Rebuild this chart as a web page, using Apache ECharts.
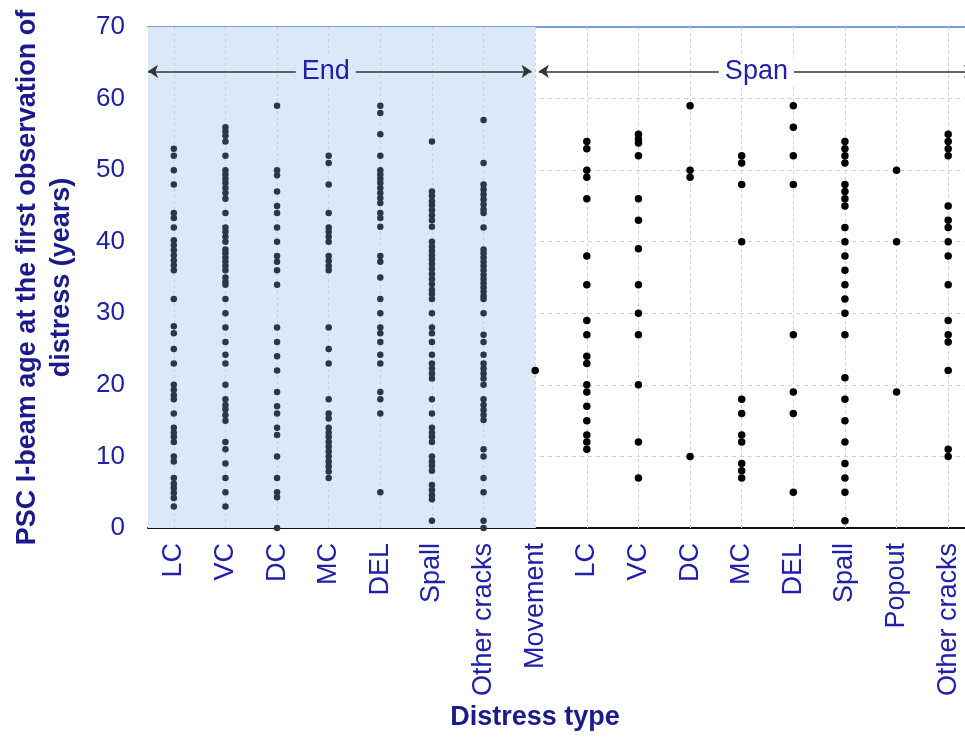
<!DOCTYPE html>
<html>
<head>
<meta charset="utf-8">
<script src="https://cdn.jsdelivr.net/npm/echarts@6/dist/echarts.min.js"></script>
<style>
html,body{margin:0;padding:0;background:#fff}
#main{width:965px;height:737px}
</style>
</head>
<body>
<div id="main"></div>
<script>
// x categories (End: 0..6, Movement: 7, Span: 8..15)
var categories = ['LC','VC','DC','MC','DEL','Spall','Other cracks','Movement',
                  'LC','VC','DC','MC','DEL','Spall','Popout','Other cracks'];

// age (years) at first observation, one list per column
var endLC = [53,52,50,48,44,43.3,42,40.2,39.5,38.8,38.1,37.4,36.7,36,32,28.2,27.2,25,23,20,19.3,18.6,18,16,14,13.3,12.7,12,10,9.3,7,6.2,5.6,4.9,4.2,3];
var endVC = [56,55.4,54.8,54,52,50,49.4,48.8,48.2,47.5,46.8,46,44,42,41.4,40.7,40,38.9,38.4,37.8,37.2,36.6,36,35,34.4,34,32,30,28,26,24.2,23,20,18,17.2,16.6,15.8,15,12,11,9,7,5,3];
var endDC = [59,50,49.3,47,45,44,42,40,38,37.2,36,34,28,26,24,22,19,17,16,14,13,10,7,5,4.3,0];
var endMC = [52,51,48,44,42,41.4,40.7,40,38,37.3,36.6,36,28,25,23,18,16,15.3,14,13.3,12.7,12,11.4,10.7,10,9.3,8.6,7.9,7];
var endDEL = [59,58,55,52,50,49.4,48.8,48.2,47.5,46.8,46.1,45.4,44,43.3,42.1,38,37.2,35,32,30,28,27.2,26,24.2,23,19,18,16,5];
var endSpall = [54,47,46.4,45.7,45.1,44.4,43.7,43,42.1,40,39.3,38.7,38.1,37.5,36.9,36.2,35.5,34.8,34.1,33.3,32.7,32,30,28,27.2,26,24.2,23,22.3,21.6,20.9,18,16,14,13.3,12.7,12,10,9.3,8.7,8,6,5.3,4.6,4,1];
var endOther = [57,51,48,47.3,46.6,45.9,45.2,44.5,44,42,38.9,38.4,37.8,37.2,36.6,36,35.4,34.8,34.2,33.6,33,32.4,32,30,27,26,24.2,23,22.3,21.6,20.9,20,18,17.2,16.5,15.8,15.1,11,10,7,5,1,0];
var movement = [22];
var spanLC = [54,53,50,49,46,38,34,29,27,24,23,20,19,17,15,13,12,11];
var spanVC = [55,54.3,53.8,52,46,43,39,34,30,27,20,12,7];
var spanDC = [59,50,49,10];
var spanMC = [52,51,48,40,18,16,13,12,9,8,7];
var spanDEL = [59,56,52,48,27,19,16,5];
var spanSpall = [54,53,52,51,48,47,46,45,42,40,38,36,34,32,30,27,21,18,15,12,9,7,5,1];
var spanPopout = [50,40,19];
var spanOther = [55,54,53,52,45,43,42,40,38,34,29,27,26,22,11,10];

var yTicks = [0,10,20,30,40,50,60,70];
var groupLabels = ['End','Span'];

var endCols = [endLC,endVC,endDC,endMC,endDEL,endSpall,endOther];
var spanCols = [movement,spanLC,spanVC,spanDC,spanMC,spanDEL,spanSpall,spanPopout,spanOther];
var moveIdx = categories.indexOf('Movement');

function toPoints(cols, offset){
  var out = [];
  cols.forEach(function(col, i){
    col.forEach(function(v){ out.push([i + offset, v]); });
  });
  return out;
}

var blue = '#2020a8';
var navy = '#1a1a8c';
var shade = '#dbe8f8';

var chart = echarts.init(document.getElementById('main'), null, {renderer: 'canvas'});
var arrowY = 63.8;

var option = {
  animation: false,
  grid: {left: 148, top: 27, right: -9, bottom: 209, outerBoundsMode: 'none', containLabel: false},
  xAxis: [
    {
      type: 'category',
      data: categories,
      boundaryGap: true,
      name: 'Distress type',
      nameLocation: 'middle',
      nameGap: 175,
      nameTextStyle: {fontFamily: 'Liberation Sans', fontWeight: 'bold', fontSize: 27, color: navy, padding: [0, 52, 0, 0]},
      axisLine: {lineStyle: {color: '#111', width: 2}},
      axisTick: {show: false},
      splitLine: {show: false},
      axisLabel: {interval: 0, rotate: 90, margin: 15, fontSize: 27, color: blue, fontFamily: 'Liberation Sans'}
    },
    {
      type: 'value',
      position: 'top',
      min: -0.5,
      max: categories.length - 0.5,
      axisLine: {show: true, lineStyle: {color: '#4f7fcf', width: 1.5}},
      axisTick: {show: false},
      axisLabel: {show: false},
      splitLine: {show: false}
    }
  ],
  yAxis: {
    type: 'value',
    min: yTicks[0],
    max: yTicks[yTicks.length - 1],
    interval: 10,
    name: 'PSC I-beam age at the first observation of\ndistress (years)',
    nameLocation: 'middle',
    nameRotate: 90,
    nameGap: 69,
    nameTextStyle: {fontFamily: 'Liberation Sans', fontWeight: 'bold', fontSize: 27, lineHeight: 34, color: navy},
    axisLine: {show: true, lineStyle: {color: '#7a7a7a', width: 2}},
    axisTick: {show: false},
    axisLabel: {fontSize: 26, color: blue, margin: 23, fontFamily: 'Liberation Sans'},
    splitLine: {lineStyle: {color: '#d4d4d4', type: [4, 4]}}
  },
  series: [
    {
      // shaded End zone + vertical guides
      type: 'scatter',
      xAxisIndex: 1,
      silent: true,
      data: [],
      markArea: {
        silent: true,
        z: 1,
        itemStyle: {color: shade},
        data: [[{xAxis: -0.5}, {xAxis: moveIdx}]]
      },
      markLine: {
        silent: true,
        z: 1.5,
        symbol: 'none',
        label: {show: false},
        lineStyle: {color: '#d0d0d0', type: [3, 3], width: 1},
        data: categories.map(function(c, i){ return {xAxis: i}; })
      }
    },
    {
      // End / Span arrows
      type: 'scatter',
      xAxisIndex: 1,
      silent: true,
      data: [],
      markLine: {
        silent: true,
        z: 3,
        symbol: ['arrow', 'arrow'],
        symbolSize: 10,
        lineStyle: {color: '#333', width: 1.5, type: 'solid'},
        label: {show: true, position: 'insideMiddle', formatter: '{b}', fontSize: 27, color: blue,
                fontFamily: 'Liberation Sans', padding: [0, 6]},
        data: [
          [{name: groupLabels[0], coord: [-0.5, arrowY], label: {backgroundColor: shade, offset: [-14, 0]}}, {coord: [moveIdx - 0.07, arrowY]}],
          [{name: groupLabels[1], coord: [moveIdx + 0.07, arrowY], label: {backgroundColor: '#fff'}}, {coord: [categories.length - 0.5, arrowY]}]
        ]
      }
    },
    {
      name: 'End',
      type: 'scatter',
      z: 4,
      symbol: 'circle',
      symbolSize: 6.5,
      itemStyle: {color: '#2d3646', opacity: 1, borderWidth: 0},
      data: toPoints(endCols, 0)
    },
    {
      name: 'Span',
      type: 'scatter',
      z: 4,
      symbol: 'circle',
      symbolSize: 7.5,
      itemStyle: {color: '#000', opacity: 1, borderWidth: 0},
      data: toPoints(spanCols, moveIdx)
    }
  ]
};
chart.setOption(option);
</script>
</body>
</html>
